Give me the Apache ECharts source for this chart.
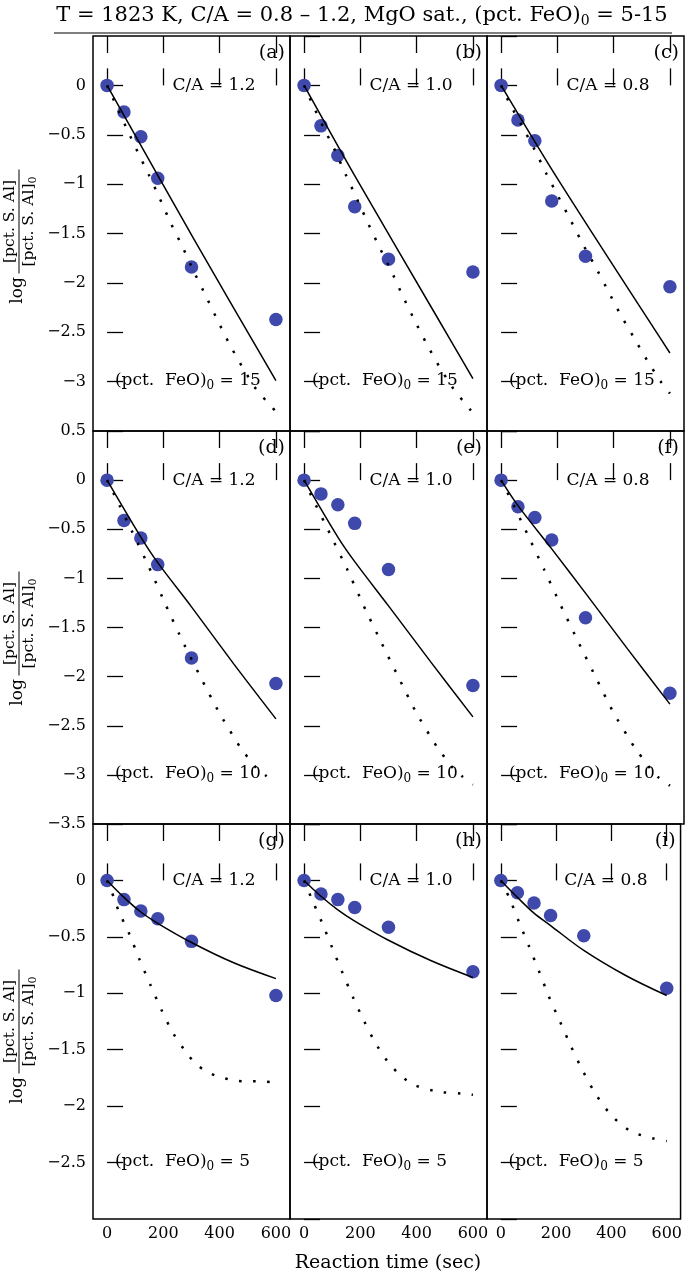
<!DOCTYPE html>
<html><head><meta charset="utf-8">
<script src="https://cdn.jsdelivr.net/npm/echarts@6/dist/echarts.min.js"></script>
<style>html,body{margin:0;padding:0;background:#fff}#c{width:685px;height:1277px}</style>
</head><body><div id="c"></div>
<script>
// ---------- data ----------
const times = [0, 60, 120, 180, 300, 600];
const xTicks = [0, 200, 400, 600];
const panelTags = ['(a)','(b)','(c)','(d)','(e)','(f)','(g)','(h)','(i)'];
const caTexts = ['C/A = 1.2','C/A = 1.0','C/A = 0.8'];
const feoValues = ['15','10','5'];
const feoTextY = [-3, -3, -2.5];
const rowYMin = [-3.5, -3.5, -3];
const rowYMax = [0.5, 0.5, 0.5];

const measA = [0,-0.27,-0.52,-0.94,-1.84,-2.37];
const measB = [0,-0.41,-0.71,-1.23,-1.76,-1.89];
const measC = [0,-0.35,-0.56,-1.17,-1.73,-2.04];
const measD = [0,-0.41,-0.59,-0.86,-1.81,-2.07];
const measE = [0,-0.14,-0.25,-0.44,-0.91,-2.09];
const measF = [0,-0.27,-0.38,-0.61,-1.40,-2.17];
const measG = [0,-0.17,-0.27,-0.34,-0.54,-1.02];
const measH = [0,-0.12,-0.17,-0.24,-0.415,-0.81];
const measI = [0,-0.11,-0.20,-0.31,-0.49,-0.955];

const solidA = [[0,0],[307,-1.55],[600,-2.99]];
const solidB = [[0,0],[187,-0.95],[463,-2.30],[600,-2.97]];
const solidC = [[0,0],[204,-0.96],[600,-2.71]];
const solidD = [[0,0],[120,-0.58],[180,-0.84],[300,-1.29],[450,-1.87],[600,-2.43]];
const solidE = [[0,0],[120,-0.58],[180,-0.83],[300,-1.28],[450,-1.85],[600,-2.41]];
const solidF = [[0,0],[60,-0.26],[180,-0.70],[300,-1.15],[450,-1.72],[600,-2.28]];
const solidG = [[0,0],[60,-0.15],[120,-0.28],[180,-0.38],[300,-0.55],[450,-0.73],[600,-0.87]];
const solidH = [[0,0],[60,-0.14],[120,-0.26],[180,-0.36],[300,-0.53],[450,-0.71],[600,-0.86]];
const solidI = [[0,0],[60,-0.15],[120,-0.29],[180,-0.40],[300,-0.62],[450,-0.84],[600,-1.02]];

const dotA = [[0,0],[28,-0.175],[67,-0.42],[108,-0.67],[149,-0.91],[188,-1.15],[227,-1.40],[269,-1.64],[309,-1.89],[349,-2.12],[391,-2.37],[433,-2.61],[478,-2.84],[528,-3.07],[589,-3.27],[600,-3.30]];
const dotB = [[0,0],[27,-0.175],[68,-0.42],[110,-0.66],[149,-0.91],[188,-1.15],[228,-1.40],[268,-1.64],[310,-1.88],[350,-2.13],[391,-2.37],[434,-2.61],[479,-2.84],[530,-3.07],[589,-3.28],[600,-3.31]];
const dotC = [[0,0],[29,-0.175],[76,-0.42],[119,-0.65],[162,-0.90],[204,-1.13],[248,-1.37],[291,-1.61],[336,-1.84],[380,-2.08],[424,-2.32],[471,-2.55],[520,-2.79],[570,-3.01],[600,-3.12]];
const dotD = [[0,0],[31,-0.18],[90,-0.53],[149,-0.885],[210,-1.28],[270,-1.65],[333,-2.01],[399,-2.37],[471,-2.71],[530,-2.93],[565,-3.01],[600,-3.08]];
const dotE = [[0,0],[29,-0.18],[91,-0.54],[152,-0.90],[212,-1.28],[274,-1.65],[336,-2.01],[399,-2.37],[471,-2.71],[529,-2.93],[564,-3.02],[600,-3.10]];
const dotF = [[0,0],[32,-0.18],[92,-0.54],[153,-0.91],[213,-1.28],[275,-1.65],[337,-2.01],[400,-2.37],[472,-2.71],[529,-2.93],[561,-3.03],[600,-3.11]];
const dotG = [[0,0],[24,-0.15],[41,-0.27],[80,-0.48],[115,-0.70],[153,-0.92],[192,-1.14],[234,-1.35],[286,-1.54],[318,-1.63],[357,-1.70],[400,-1.74],[447,-1.77],[494,-1.78],[541,-1.78],[590,-1.79]];
const dotH = [[0,0],[25,-0.15],[63,-0.37],[99,-0.59],[135,-0.81],[173,-1.03],[212,-1.24],[256,-1.45],[310,-1.645],[382,-1.80],[472,-1.87],[567,-1.89],[600,-1.90]];
const dotI = [[0,0],[30,-0.15],[66,-0.37],[103,-0.59],[139,-0.81],[174,-1.03],[213,-1.245],[252,-1.46],[294,-1.675],[340,-1.88],[396,-2.07],[468,-2.22],[557,-2.29],[600,-2.31]];

const measured = [measA,measB,measC,measD,measE,measF,measG,measH,measI];
const solids = [solidA,solidB,solidC,solidD,solidE,solidF,solidG,solidH,solidI];
const dots = [dotA,dotB,dotC,dotD,dotE,dotF,dotG,dotH,dotI];

// ---------- layout / style ----------
const FONT = 'DejaVu Serif';
const BLUE = '#3f48ab';
const colLeft = [93, 290, 487];
const rowTop = [36, 431, 824];
const rowH = [395, 393, 395];
const labelShift = [-12, -4, 0];
const W = 197;
const XMIN = -50, XMAX = 650;

const fmt = v => {
  if (Math.abs(v) < 1e-9) return '0';
  const a = Math.abs(v).toString();
  return v < 0 ? '\u2212' + a : a;
};

const grids = [], xAxes = [], yAxes = [], series = [];
for (let i = 0; i < 9; i++) {
  const r = Math.floor(i / 3), c = i % 3;
  grids.push({left: colLeft[c], top: rowTop[r], width: W, height: rowH[r],
    show: true, borderColor: '#000', borderWidth: 1.5, backgroundColor: 'transparent'});
  const tickStyle = {show: true, inside: true, length: 17, customValues: xTicks, lineStyle: {color: '#000', width: 1.3}};
  xAxes.push({gridIndex: i, type: 'value', min: XMIN, max: XMAX, position: 'bottom',
    axisLine: {show: false}, splitLine: {show: false}, axisTick: tickStyle,
    axisLabel: {show: r === 2, customValues: xTicks, color: '#000', fontFamily: FONT, fontSize: 16, margin: 7}});
  xAxes.push({gridIndex: i, type: 'value', min: XMIN, max: XMAX, position: 'top',
    axisLine: {show: false}, splitLine: {show: false}, axisTick: tickStyle,
    axisLabel: {show: false}});
  yAxes.push({gridIndex: i, type: 'value', min: rowYMin[r], max: rowYMax[r], interval: 0.5,
    axisLine: {show: false}, splitLine: {show: false},
    axisTick: {show: true, inside: true, length: 16, lineStyle: {color: '#000', width: 1.3}},
    axisLabel: {show: c === 0, formatter: fmt, color: '#000', fontFamily: FONT, fontSize: 16, margin: 7,
      showMinLabel: r === 1, showMaxLabel: r === 1}});
  series.push({type: 'scatter', xAxisIndex: 2 * i, yAxisIndex: i, z: 2,
    data: times.map((t, k) => [t, measured[i][k]]), symbolSize: 13.5, itemStyle: {color: BLUE, opacity: 1}});
  series.push({type: 'line', xAxisIndex: 2 * i, yAxisIndex: i, z: 3, data: solids[i], symbol: 'none',
    smooth: r === 2 ? 0.35 : 0.3, lineStyle: {color: '#000', width: 1.5}});
  series.push({type: 'line', xAxisIndex: 2 * i, yAxisIndex: i, z: 3, data: dots[i], symbol: 'none',
    smooth: r === 2 ? 0.3 : 0.15, lineStyle: {color: '#000', width: 2.5, type: [2.5, 11.5], cap: 'butt'}});
}

const chart = echarts.init(document.getElementById('c'), null, {renderer: 'canvas'});
chart.setOption({animation: false, backgroundColor: '#fff', grid: grids, xAxis: xAxes, yAxis: yAxes, series: series});

// ---------- texts ----------
const subRich = fs => ({s: {fontSize: fs, fontFamily: FONT, fill: '#000', padding: [Math.round(fs * 0.8), 0, 0, 0]}});
const gfx = [];
gfx.push({type: 'text', x: 362, y: 16, style: {text: 'T = 1823 K, C/A = 0.8 \u2013 1.2, MgO sat., (pct. FeO){s|0} = 5-15',
  fontSize: 21, fontFamily: FONT, fill: '#000', align: 'center', verticalAlign: 'middle', rich: subRich(14)}});
gfx.push({type: 'line', shape: {x1: 54, y1: 33, x2: 672, y2: 33}, style: {stroke: '#000', lineWidth: 1.2}});
gfx.push({type: 'text', x: 388, y: 1263, style: {text: 'Reaction time (sec)', fontSize: 19, fontFamily: FONT,
  fill: '#000', align: 'center', verticalAlign: 'middle'}});

for (let i = 0; i < 9; i++) {
  const r = Math.floor(i / 3), c = i % 3;
  const fin = {xAxisIndex: 2 * i, yAxisIndex: i};
  const tr = chart.convertToPixel(fin, [XMAX, rowYMax[r]]);
  gfx.push({type: 'text', x: tr[0] - 5, y: tr[1] + 17, style: {text: panelTags[i], fontSize: 19, fontFamily: FONT,
    fill: '#000', align: 'right', verticalAlign: 'middle'}});
  const ca = chart.convertToPixel(fin, [380, 0]);
  gfx.push({type: 'text', x: ca[0], y: ca[1], style: {text: caTexts[c], fontSize: 17, fontFamily: FONT,
    fill: '#000', align: 'center', verticalAlign: 'middle'}});
  const fe = chart.convertToPixel(fin, [28, feoTextY[r]]);
  gfx.push({type: 'text', x: fe[0], y: fe[1] - 1, style: {text: '(pct.  FeO){s|0} = ' + feoValues[r], fontSize: 17,
    fontFamily: FONT, fill: '#000', align: 'left', verticalAlign: 'middle', rich: subRich(12)}});
}
for (let r = 0; r < 3; r++) {
  const cy = rowTop[r] + rowH[r] / 2 + labelShift[r];
  gfx.push({type: 'group', x: 19, y: cy, rotation: Math.PI / 2, children: [
    {type: 'text', x: -69, y: -1, style: {text: 'log', fontSize: 17, fontFamily: FONT, fill: '#000', align: 'center', verticalAlign: 'middle'}},
    {type: 'text', x: 0, y: -9, style: {text: '[pct. S. Al]', fontSize: 15.5, fontFamily: FONT, fill: '#000', align: 'center', verticalAlign: 'middle'}},
    {type: 'line', shape: {x1: -52, y1: 0, x2: 52, y2: 0}, style: {stroke: '#000', lineWidth: 1}},
    {type: 'text', x: 0, y: 10, style: {text: '[pct. S. Al]{s|0}', fontSize: 15.5, fontFamily: FONT, fill: '#000', align: 'center', verticalAlign: 'middle', rich: subRich(11)}}
  ]});
}
chart.setOption({graphic: {elements: gfx}});
</script></body></html>
